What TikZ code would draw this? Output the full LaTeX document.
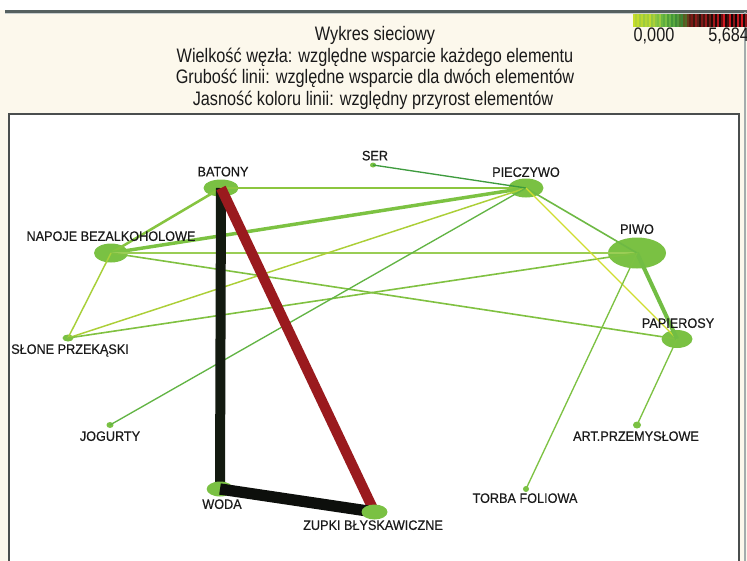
\documentclass[tikz,border=0pt]{standalone}
\usepackage{fontspec}
\setmainfont{Liberation Sans}
\newfontfamily\lblfont{Liberation Sans}[FakeBold=0.45]
\usetikzlibrary{shapes.geometric}
\definecolor{cream}{HTML}{FCF8EC}
\definecolor{ngreen}{HTML}{7AC143}
\definecolor{framegray}{HTML}{4A4E4E}
\definecolor{topgray}{HTML}{55605F}
\definecolor{sidegray}{HTML}{A3ADAD}
\definecolor{txt}{HTML}{1A1A1A}
\definecolor{cBN}{HTML}{86C440}
\definecolor{cBP}{HTML}{8CC63F}
\definecolor{cNP}{HTML}{7CC242}
\definecolor{cNW}{HTML}{9ACD55}
\definecolor{cNA}{HTML}{80C141}
\definecolor{cNS}{HTML}{A8D03A}
\definecolor{cSP}{HTML}{ACCF37}
\definecolor{cSW}{HTML}{80C141}
\definecolor{cJP}{HTML}{62B444}
\definecolor{cRP}{HTML}{3E9B3E}
\definecolor{cPW}{HTML}{6EB944}
\definecolor{cPA}{HTML}{D0DD30}
\definecolor{cWA}{HTML}{72BD44}
\definecolor{cWT}{HTML}{7DC243}
\definecolor{cAA}{HTML}{7DC243}
\definecolor{cblack}{HTML}{131A10}
\definecolor{cblack2}{HTML}{0D0F0C}
\definecolor{cred}{HTML}{9A1A1E}
\newcommand\tallt[1]{\scalebox{1}[1.2]{#1}}
\newcommand\talll[1]{\scalebox{1}[1.08]{\lblfont #1}}
\pgfdeclarelayer{lA}\pgfdeclarelayer{lB}\pgfdeclarelayer{lC}\pgfdeclarelayer{lD}
\pgfsetlayers{main,lA,lB,lC,lD}
\begin{document}
\begin{tikzpicture}[x=0.75pt,y=-0.75pt,
  nd/.style={ellipse, fill=ngreen, draw=none, inner sep=0pt},
  lbl/.style={font=\fontsize{9.5}{11}\selectfont, text=txt, inner sep=0pt, text height=7.3pt, text depth=0pt, anchor=center},
  ttl/.style={font=\fontsize{12.2}{14}\selectfont, text=txt, inner sep=0pt, text height=10.4pt, text depth=0pt, anchor=center},
  edge/.style={line cap=butt}]
\useasboundingbox (0,0) rectangle (747,561);
% background
\fill[cream] (0,0) rectangle (747,561);
\fill[white] (0,0) rectangle (747,10);
\fill[topgray] (5,10) rectangle (747,12.5);
\fill[sidegray!60] (5,12.5) rectangle (747,13.5);
\fill[sidegray] (743.5,12) rectangle (745.5,561);
\fill[white] (9,114) rectangle (739,561);
\draw[framegray, line width=1.5pt] (9,570) -- (9,114) -- (739,114) -- (739,570);
% colour bar
\foreach \x/\h in {633/C8DE2A,635/B2D336,637/C4DC2C,639/A6CE3A,641/BAD731,643/9CCB3E,645/B4D534,647/A2CD3C,649/C0DA2E,651/94C840,653/AAD038,655/8CC642,657/7CC242,659/9ACB3E,661/6CB842,663/5EAE3F,665/78BE42,667/4FA03A,669/66B240,671/44963A,673/5AA83C,675/3E8A36,677/52983A,679/4A7A2A,681/3A8234,683/5C5A20,685/4E6A26,687/6A3A1C,689/5A1E14,691/7A1A16,693/3A1A0E,695/8C1C1A,697/5A2018,699/2A120C,701/7E1A18,703/461610,705/9A1A1C,707/30100A,709/6E1814,711/1E0C08,713/A2161A,715/200A08,717/B0141A,719/100808,721/6A0E10,723/D01820,725/1A0808,727/4A0C0C,729/C8161D,731/140606,733/8A1216,735/0E0606,737/BE1820,739/2A0A0A,741/D2181E,743/180808,745/901418}
  {\definecolor{tmpc}{HTML}{\h}\fill[tmpc] (\x,13.5) rectangle ++(2,13.5);}
% title
\node[ttl] (t1) at (375,34) {\tallt{Wykres sieciowy}};
\node[ttl] (t2) at (375,55.5) {\tallt{Wielkość węzła: względne wsparcie każdego elementu}};
\node[ttl] (t3) at (375,77) {\tallt{Grubość linii: względne wsparcie dla dwóch elementów}};
\node[ttl] (t4) at (373,98.5) {\tallt{Jasność koloru linii: względny przyrost elementów}};
\node[ttl] (s0) at (654,35) {\tallt{0,000}};
\node[ttl, anchor=west] (s1) at (708,35) {\tallt{5,684}};
% nodes
\node[nd, minimum width=26.25pt, minimum height=12.75pt] (BAT) at (221,188) {};
\node[nd, minimum width=26.25pt, minimum height=14.25pt] (PIE) at (526,188) {};
\node[nd, minimum width=43.5pt, minimum height=23.25pt] (PIW) at (637,253) {};
\node[nd, minimum width=25.5pt, minimum height=14.25pt] (NAP) at (111,253) {};
\node[nd, minimum width=23.25pt, minimum height=13.5pt] (PAP) at (677,339) {};
\begin{pgfonlayer}{lB}
\node[nd, minimum width=20pt, minimum height=11.25pt] (WOD) at (220,489) {};
\end{pgfonlayer}
\begin{pgfonlayer}{lD}
\node[nd, minimum width=19.5pt, minimum height=11.25pt] (ZUP) at (374.5,512) {};
\end{pgfonlayer}
\node[nd, minimum width=8.25pt, minimum height=5.25pt] (SLO) at (68,338) {};
\node[nd, minimum width=4.5pt, minimum height=3.75pt] (SER) at (373,165) {};
\node[nd, minimum width=5.25pt, minimum height=4.5pt] (JOG) at (110,425) {};
\node[nd, minimum width=6pt, minimum height=5.25pt] (ART) at (637,425) {};
\node[nd, minimum width=4.5pt, minimum height=4.5pt] (TOR) at (526,489) {};
% thin edges
\draw[edge, cBN, line width=1.9pt] (BAT.center) -- (NAP.center);
\draw[edge, cBP, line width=1.5pt] (BAT.center) -- (PIE.center);
\draw[edge, cNP, line width=2.6pt] (NAP.center) -- (PIE.center);
\draw[edge, cNW, line width=1.5pt] (NAP.center) -- (PIW.center);
\draw[edge, cNA, line width=1.2pt] (NAP.center) -- (PAP.center);
\draw[edge, cNS, line width=1.1pt] (NAP.center) -- (SLO.center);
\draw[edge, cSP, line width=1.1pt] (SLO.center) -- (PIE.center);
\draw[edge, cSW, line width=1.2pt] (SLO.center) -- (PIW.center);
\draw[edge, cJP, line width=1pt] (JOG.center) -- (PIE.center);
\draw[edge, cRP, line width=1pt] (SER.center) -- (PIE.center);
\draw[edge, cPW, line width=1.2pt] (PIE.center) -- (PIW.center);
\draw[edge, cPA, line width=1pt] (PIE.center) -- (PAP.center);
\draw[edge, cWA, line width=3pt] (PIW.center) -- (PAP.center);
\draw[edge, cWT, line width=1pt] (PIW.center) -- (TOR.center);
\draw[edge, cAA, line width=1pt] (PAP.center) -- (ART.center);
% thick edges
\begin{pgfonlayer}{lA}
\draw[edge, cblack, line width=7.5pt] (BAT.center) -- (WOD.center);
\draw[edge, cred, line width=7.7pt] (BAT.center) -- (ZUP.center);
\end{pgfonlayer}
\begin{pgfonlayer}{lC}
\draw[edge, cblack2, line width=8.5pt] (WOD.center) -- (ZUP.center);
\end{pgfonlayer}
% labels
\node[lbl] (lBAT) at (223,171.5) {\talll{BATONY}};
\node[lbl] (lSER) at (375,155.5) {\talll{SER}};
\node[lbl] (lPIE) at (526,172) {\talll{PIECZYWO}};
\node[lbl] (lPIW) at (637,229) {\talll{PIWO}};
\node[lbl] (lNAP) at (111,236) {\talll{NAPOJE BEZALKOHOLOWE}};
\node[lbl] (lPAP) at (678,323) {\talll{PAPIEROSY}};
\node[lbl] (lSLO) at (70,349) {\talll{SŁONE PRZEKĄSKI}};
\node[lbl] (lJOG) at (110,436) {\talll{JOGURTY}};
\node[lbl] (lART) at (636,436) {\talll{ART.PRZEMYSŁOWE}};
\node[lbl] (lTOR) at (525,498) {\talll{TORBA FOLIOWA}};
\node[lbl] (lWOD) at (222,504) {\talll{WODA}};
\node[lbl] (lZUP) at (373,525) {\talll{ZUPKI BŁYSKAWICZNE}};
\end{tikzpicture}
\end{document}
